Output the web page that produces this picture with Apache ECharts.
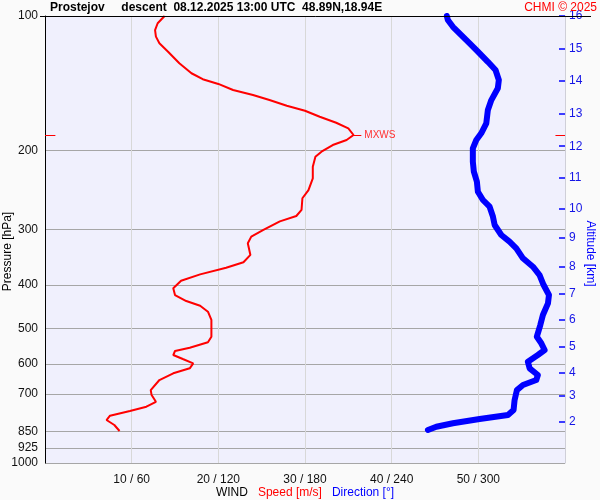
<!DOCTYPE html>
<html>
<head>
<meta charset="utf-8">
<script src="https://cdn.jsdelivr.net/npm/echarts@6/dist/echarts.min.js"></script>
<style>
html,body{margin:0;padding:0;background:#fafafa;}
#chart{width:600px;height:500px;}
</style>
</head>
<body>
<div id="chart"></div>
<script>
// ---- data ----
const pressureLevels = [100, 200, 300, 400, 500, 600, 700, 850, 925, 1000];
const altitudeKm = [2, 3, 4, 5, 6, 7, 8, 9, 10, 11, 12, 13, 14, 15, 16];
const altitudePressure = [806.7, 708.3, 626.8, 549.3, 478.7, 418.8, 363.8, 312.6, 269.9, 230.4, 195.6, 165.4, 139.5, 118.5, 100];
const xTickValues = [10, 20, 30, 40, 50];
const xTickLabels = ['10 / 60', '20 / 120', '30 / 180', '40 / 240', '50 / 300'];

const speedPressure = [100, 103.8, 107.5, 111.2, 115.1, 120.2, 127.6, 134.3, 138.5, 141.9, 146.4, 150.2, 154.2, 158.8, 162.9, 168.0, 173.3, 178.4, 184.6, 189.4, 194.4, 201.2, 206.5, 217.4, 230.7, 245.1, 255.7, 271.6, 280.2, 288.0, 301.1, 311.6, 322.5, 342.4, 355.6, 365.7, 378.4, 391.0, 406.6, 420.9, 434.2, 444.8, 458.7, 478.7, 521.8, 537.0, 552.2, 561.6, 573.4, 585.3, 598.4, 614.0, 630.0, 652.2, 686.8, 704.7, 729.5, 748.2, 765.1, 783.9, 801.4, 822.2, 848.0];
const speedValues = [13.8, 13.0, 12.7, 12.8, 13.2, 14.2, 15.5, 16.9, 18.2, 20.0, 21.7, 24.0, 25.9, 27.9, 30.0, 31.7, 33.6, 35.0, 35.6, 34.8, 33.2, 31.9, 31.2, 30.9, 30.9, 30.4, 29.7, 29.6, 29.0, 27.1, 25.2, 23.8, 23.4, 23.7, 22.9, 20.9, 17.9, 15.7, 14.8, 15.0, 16.3, 17.9, 18.8, 19.2, 19.2, 18.8, 16.7, 15.0, 14.8, 15.9, 17.1, 16.7, 14.8, 13.2, 12.2, 12.3, 12.8, 11.7, 9.8, 7.5, 7.1, 8.0, 8.6];

const dirPressure = [100, 102.1, 105.7, 110.3, 115.1, 120.2, 126.6, 132.1, 139.0, 145.1, 154.2, 162.3, 173.8, 183.0, 189.4, 197.7, 211.8, 223.0, 234.8, 247.2, 258.0, 267.1, 281.0, 293.5, 309.0, 319.8, 330.9, 348.4, 363.8, 379.7, 399.8, 420.9, 439.4, 466.6, 491.3, 521.8, 539.8, 558.8, 573.4, 593.4, 614.0, 635.6, 652.2, 669.3, 686.8, 723.1, 761.1, 781.0, 797.3, 815.1, 829.5, 843.7];
const dirValues = [278.2, 278.9, 282.4, 288.2, 294.0, 299.7, 306.6, 311.9, 314.2, 313.5, 309.0, 306.6, 305.5, 302.0, 298.6, 296.2, 296.2, 296.9, 299.0, 299.7, 303.2, 307.8, 310.1, 311.3, 315.9, 321.6, 326.3, 330.9, 337.8, 342.4, 345.2, 348.9, 348.2, 344.7, 342.9, 340.5, 343.6, 345.9, 341.2, 334.3, 335.5, 341.2, 340.1, 330.9, 326.7, 325.1, 324.4, 320.5, 300.9, 282.4, 270.9, 265.1];

const maxWindSpeed = 35.6;
const maxWindPressure = 184.6;

const titleText = 'Prostejov     descent  08.12.2025 13:00 UTC  48.89N,18.94E';
const creditText = 'CHMI © 2025';

// ---- chart ----
const FONT = '"Liberation Sans", Arial, sans-serif';
const chart = echarts.init(document.getElementById('chart'), null, {renderer: 'canvas'});

const speedData = speedPressure.map((p, i) => [speedValues[i], p]);
const dirData = dirPressure.map((p, i) => [dirValues[i], p]);

chart.setOption({
  backgroundColor: '#fafafa',
  animation: false,
  textStyle: {fontFamily: FONT},
  title: [
    {text: titleText, left: 50, top: 2, padding: 0, textStyle: {fontSize: 12, fontWeight: 'bold', color: '#000', fontFamily: FONT}},
    {text: creditText, right: 3, top: 2, padding: 0, textStyle: {fontSize: 12, fontWeight: 'normal', color: '#ff0000', fontFamily: FONT}}
  ],
  graphic: [
    {type: 'line', shape: {x1: 40, y1: 16.5, x2: 591, y2: 16.5}, style: {stroke: '#000', lineWidth: 1}, z: 100}
  ],
  grid: {left: 45, right: 35, top: 16, bottom: 37, show: true, backgroundColor: '#f0f0fd', borderWidth: 0, outerBoundsMode: 'none', containLabel: false},
  xAxis: [
    {
      type: 'value', min: 0, max: 60, interval: 10,
      axisLine: {show: false, onZero: false}, axisTick: {show: false},
      splitLine: {show: true, lineStyle: {color: '#d8d8d8', width: 1}},
      axisLabel: {
        color: '#111', fontSize: 12, margin: 11, fontFamily: FONT,
        formatter: v => { const i = xTickValues.indexOf(v); return i >= 0 ? xTickLabels[i] : ''; }
      },
      name: '{a|WIND}   {b|Speed [m/s]}   {c|Direction [°]}',
      nameLocation: 'middle', nameGap: 24, nameMoveOverlap: false,
      nameTextStyle: {
        fontSize: 12,
        rich: {
          a: {color: '#000', fontSize: 12, fontFamily: FONT},
          b: {color: '#ff0000', fontSize: 12, fontFamily: FONT},
          c: {color: '#0000ff', fontSize: 12, fontFamily: FONT}
        }
      }
    },
    {type: 'value', min: 0, max: 360, show: false}
  ],
  yAxis: [
    {
      type: 'log', logBase: 10, min: 100, max: 1000, inverse: true, position: 'left',
      axisLine: {show: true, onZero: false, lineStyle: {color: '#000', width: 1}},
      axisTick: {show: false, customValues: pressureLevels},
      axisLabel: {customValues: pressureLevels, color: '#111', fontSize: 12, margin: 7, fontFamily: FONT,
        formatter: v => String(Math.round(v))},
      splitLine: {show: true, lineStyle: {color: '#a6a6a6', width: 1}},
      name: 'Pressure [hPa]', nameLocation: 'middle', nameRotate: 90, nameGap: 31, nameMoveOverlap: false,
      nameTextStyle: {color: '#000', fontSize: 12, fontFamily: FONT, padding: [0, 24, 0, 0]}
    },
    {
      type: 'log', logBase: 10, min: 100, max: 1000, inverse: true, position: 'right',
      axisLine: {show: true, onZero: false, lineStyle: {color: '#cfcfd8', width: 1}},
      axisTick: {show: true, inside: true, length: 6, customValues: altitudePressure, lineStyle: {color: '#0000ff', width: 1.5}},
      axisLabel: {
        customValues: altitudePressure, color: '#1515e6', fontSize: 12, margin: 4, fontFamily: FONT,
        formatter: v => {
          let best = 0, bd = Infinity;
          altitudePressure.forEach((p, i) => { const d = Math.abs(p - v); if (d < bd) { bd = d; best = i; } });
          return String(altitudeKm[best]);
        }
      },
      splitLine: {show: false},
      name: 'Altitude [km]', nameLocation: 'middle', nameRotate: -90, nameGap: 19, nameMoveOverlap: false,
      nameTextStyle: {color: '#0000ff', fontSize: 12, fontFamily: FONT, padding: [0, 0, 0, 28]}
    }
  ],
  series: [
    {
      type: 'line', name: 'Direction', xAxisIndex: 1, yAxisIndex: 0,
      data: dirData, symbol: 'none', smooth: false,
      lineStyle: {color: '#0000ff', width: 6, cap: 'round', join: 'round'},
      z: 3
    },
    {
      type: 'line', name: 'Speed', xAxisIndex: 0, yAxisIndex: 0,
      data: speedData, symbol: 'none', smooth: false,
      lineStyle: {color: '#ff0000', width: 2},
      z: 4,
      markLine: {
        silent: true, symbol: ['none', 'none'], animation: false,
        lineStyle: {color: '#ff0000', width: 1, type: 'solid'},
        label: {show: false},
        data: [
          [{coord: [maxWindSpeed, maxWindPressure]}, {coord: [maxWindSpeed + 0.9, maxWindPressure],
            label: {show: true, position: 'end', formatter: 'MXWS', color: '#ff3030', fontSize: 10, fontFamily: FONT, distance: 3}}],
          [{coord: [0, maxWindPressure]}, {coord: [1.2, maxWindPressure]}],
          [{coord: [58.9, maxWindPressure]}, {coord: [60, maxWindPressure]}]
        ]
      }
    }
  ]
});
</script>
</body>
</html>
